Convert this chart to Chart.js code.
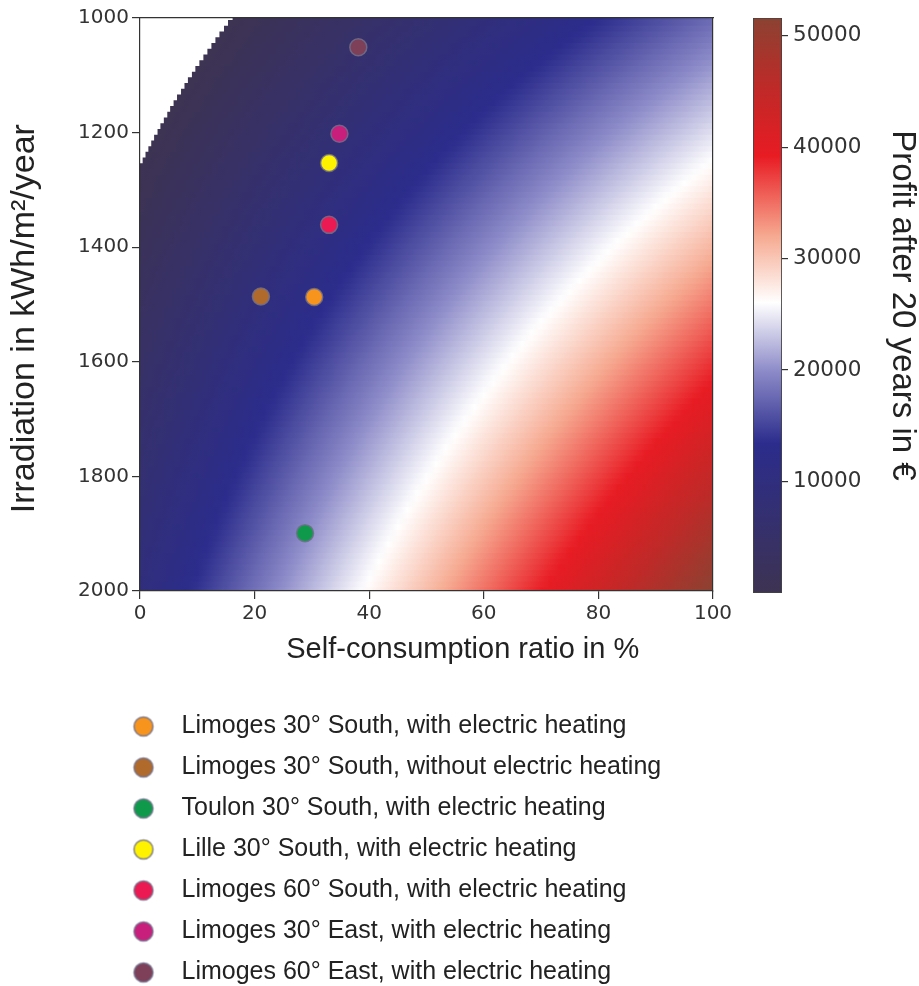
<!DOCTYPE html>
<html>
<head>
<meta charset="utf-8">
<title>Profit after 20 years</title>
<script src="https://cdn.jsdelivr.net/npm/chart.js@4/dist/chart.umd.min.js"></script>
<style>
  html, body { margin: 0; padding: 0; background: #ffffff; }
  #page { position: relative; width: 919px; height: 986px; overflow: hidden; background: #ffffff; }
  #page canvas { position: absolute; }
  #heat { left: 0; top: 0; }
  #scale { left: 700px; top: 0; }
  #key { left: 102px; top: 698px; }
</style>
</head>
<body>
<div id="page">
  <canvas id="heat" width="919" height="700"></canvas>
  <canvas id="scale" width="219" height="700"></canvas>
  <canvas id="key" width="640" height="288"></canvas>
</div>
<script>
// Grid nodes along the self-consumption ratio (%)
const selfConsumptionNodes = [0, 10, 20, 30, 40, 50, 60, 70, 80, 90, 100];
// Irradiation (kWh/m²/year) of each grid row, 10 kWh apart
const irradiationRows = [
  1000, 1010, 1020, 1030, 1040, 1050, 1060, 1070, 1080, 1090,
  1100, 1110, 1120, 1130, 1140, 1150, 1160, 1170, 1180, 1190,
  1200, 1210, 1220, 1230, 1240, 1250, 1260, 1270, 1280, 1290,
  1300, 1310, 1320, 1330, 1340, 1350, 1360, 1370, 1380, 1390,
  1400, 1410, 1420, 1430, 1440, 1450, 1460, 1470, 1480, 1490,
  1500, 1510, 1520, 1530, 1540, 1550, 1560, 1570, 1580, 1590,
  1600, 1610, 1620, 1630, 1640, 1650, 1660, 1670, 1680, 1690,
  1700, 1710, 1720, 1730, 1740, 1750, 1760, 1770, 1780, 1790,
  1800, 1810, 1820, 1830, 1840, 1850, 1860, 1870, 1880, 1890,
  1900, 1910, 1920, 1930, 1940, 1950, 1960, 1970, 1980, 1990,
  2000
];
// Self-consumption ratio (%) where profit reaches zero, for the top rows (1000 to 1260)
const breakEvenRatio = [16.3, 15.5, 14.8, 14.0, 13.3, 12.6, 11.9, 11.2, 10.5, 9.8,
                        9.2, 8.5, 7.9, 7.3, 6.6, 6.0, 5.4, 4.9, 4.3, 3.7,
                        3.2, 2.6, 2.1, 1.6, 1.1, 0.6, 0.1];
// Profit after 20 years (€) per row and node; null where there is no profit
const profit = [
  [null, null, 770, 2870, 4970, 7060, 9160, 11260, 13360, 15450, 17550],
  [null, null, 950, 3060, 5180, 7300, 9420, 11540, 13650, 15770, 17890],
  [null, null, 1120, 3260, 5400, 7540, 9680, 11810, 13950, 16090, 18230],
  [null, null, 1290, 3450, 5610, 7770, 9930, 12090, 14250, 16410, 18570],
  [null, null, 1470, 3650, 5830, 8010, 10190, 12370, 14550, 16730, 18910],
  [null, null, 1640, 3840, 6040, 8240, 10450, 12650, 14850, 17050, 19250],
  [null, null, 1810, 4030, 6260, 8480, 10700, 12930, 15150, 17370, 19590],
  [null, null, 1980, 4230, 6470, 8720, 10960, 13200, 15450, 17690, 19940],
  [null, null, 2160, 4420, 6690, 8950, 11220, 13480, 15750, 18010, 20280],
  [null, 40, 2330, 4620, 6900, 9190, 11470, 13760, 16050, 18330, 20620],
  [null, 200, 2500, 4810, 7120, 9420, 11730, 14040, 16340, 18650, 20960],
  [null, 350, 2680, 5000, 7330, 9660, 11990, 14320, 16640, 18970, 21300],
  [null, 500, 2850, 5200, 7550, 9900, 12240, 14590, 16940, 19290, 21640],
  [null, 650, 3020, 5390, 7760, 10130, 12500, 14870, 17240, 19610, 21980],
  [null, 800, 3200, 5590, 7980, 10370, 12760, 15150, 17540, 19930, 22320],
  [null, 960, 3370, 5780, 8190, 10600, 13020, 15430, 17840, 20250, 22660],
  [null, 1110, 3540, 5970, 8410, 10840, 13270, 15700, 18140, 20570, 23000],
  [null, 1260, 3710, 6170, 8620, 11080, 13530, 15980, 18440, 20890, 23340],
  [null, 1410, 3890, 6360, 8840, 11310, 13790, 16260, 18740, 21210, 23680],
  [null, 1560, 4060, 6560, 9050, 11550, 14040, 16540, 19030, 21530, 24030],
  [null, 1720, 4230, 6750, 9270, 11780, 14300, 16820, 19330, 21850, 24370],
  [null, 1870, 4410, 6940, 9480, 12020, 14560, 17090, 19630, 22170, 24710],
  [null, 2020, 4580, 7140, 9700, 12250, 14810, 17370, 19930, 22490, 25050],
  [null, 2170, 4750, 7330, 9910, 12490, 15070, 17650, 20230, 22810, 25390],
  [null, 2330, 4930, 7530, 10130, 12730, 15330, 17930, 20530, 23130, 25730],
  [null, 2480, 5100, 7720, 10340, 12960, 15580, 18210, 20830, 23450, 26070],
  [null, 2630, 5270, 7910, 10560, 13200, 15840, 18480, 21130, 23770, 26410],
  [120, 2780, 5440, 8110, 10770, 13430, 16100, 18760, 21420, 24090, 26750],
  [250, 2930, 5620, 8300, 10990, 13670, 16350, 19040, 21720, 24410, 27090],
  [380, 3090, 5790, 8500, 11200, 13910, 16610, 19320, 22020, 24730, 27430],
  [510, 3240, 5960, 8690, 11420, 14140, 16870, 19590, 22320, 25050, 27770],
  [640, 3390, 6140, 8880, 11630, 14380, 17130, 19870, 22620, 25370, 28110],
  [770, 3540, 6310, 9080, 11850, 14610, 17380, 20150, 22920, 25690, 28460],
  [900, 3690, 6480, 9270, 12060, 14850, 17640, 20430, 23220, 26010, 28800],
  [1040, 3850, 6660, 9470, 12280, 15090, 17900, 20710, 23520, 26330, 29140],
  [1170, 4000, 6830, 9660, 12490, 15320, 18150, 20980, 23820, 26650, 29480],
  [1300, 4150, 7000, 9850, 12710, 15560, 18410, 21260, 24110, 26970, 29820],
  [1430, 4300, 7170, 10050, 12920, 15790, 18670, 21540, 24410, 27290, 30160],
  [1560, 4450, 7350, 10240, 13140, 16030, 18920, 21820, 24710, 27610, 30500],
  [1690, 4610, 7520, 10440, 13350, 16270, 19180, 22100, 25010, 27930, 30840],
  [1820, 4760, 7690, 10630, 13570, 16500, 19440, 22370, 25310, 28250, 31180],
  [1950, 4910, 7870, 10820, 13780, 16740, 19690, 22650, 25610, 28570, 31520],
  [2080, 5060, 8040, 11020, 14000, 16970, 19950, 22930, 25910, 28890, 31860],
  [2220, 5210, 8210, 11210, 14210, 17210, 20210, 23210, 26210, 29200, 32200],
  [2350, 5370, 8390, 11410, 14430, 17450, 20470, 23490, 26500, 29520, 32540],
  [2480, 5520, 8560, 11600, 14640, 17680, 20720, 23760, 26800, 29850, 32890],
  [2610, 5670, 8730, 11790, 14860, 17920, 20980, 24040, 27100, 30160, 33230],
  [2740, 5820, 8900, 11990, 15070, 18150, 21240, 24320, 27400, 30480, 33570],
  [2870, 5970, 9080, 12180, 15290, 18390, 21490, 24600, 27700, 30800, 33910],
  [3000, 6130, 9250, 12380, 15500, 18620, 21750, 24870, 28000, 31120, 34250],
  [3130, 6280, 9420, 12570, 15720, 18860, 22010, 25150, 28300, 31440, 34590],
  [3260, 6430, 9600, 12760, 15930, 19100, 22260, 25430, 28600, 31760, 34930],
  [3390, 6580, 9770, 12960, 16150, 19330, 22520, 25710, 28900, 32080, 35270],
  [3530, 6730, 9940, 13150, 16360, 19570, 22780, 25990, 29190, 32400, 35610],
  [3660, 6890, 10120, 13350, 16580, 19800, 23030, 26260, 29490, 32720, 35950],
  [3790, 7040, 10290, 13540, 16790, 20040, 23290, 26540, 29790, 33040, 36290],
  [3920, 7190, 10460, 13730, 17000, 20280, 23550, 26820, 30090, 33360, 36630],
  [4050, 7340, 10630, 13930, 17220, 20510, 23800, 27100, 30390, 33680, 36970],
  [4180, 7490, 10810, 14120, 17430, 20750, 24060, 27380, 30690, 34000, 37320],
  [4310, 7650, 10980, 14320, 17650, 20980, 24320, 27650, 30990, 34320, 37660],
  [4440, 7800, 11150, 14510, 17860, 21220, 24580, 27930, 31290, 34640, 38000],
  [4570, 7950, 11330, 14700, 18080, 21460, 24830, 28210, 31590, 34960, 38340],
  [4710, 8100, 11500, 14900, 18290, 21690, 25090, 28490, 31880, 35280, 38680],
  [4840, 8250, 11670, 15090, 18510, 21930, 25350, 28760, 32180, 35600, 39020],
  [4970, 8410, 11850, 15290, 18720, 22160, 25600, 29040, 32480, 35920, 39360],
  [5100, 8560, 12020, 15480, 18940, 22400, 25860, 29320, 32780, 36240, 39700],
  [5230, 8710, 12190, 15670, 19150, 22640, 26120, 29600, 33080, 36560, 40040],
  [5360, 8860, 12370, 15870, 19370, 22870, 26370, 29880, 33380, 36880, 40380],
  [5490, 9010, 12540, 16060, 19580, 23110, 26630, 30150, 33680, 37200, 40720],
  [5620, 9170, 12710, 16260, 19800, 23340, 26890, 30430, 33980, 37520, 41060],
  [5750, 9320, 12880, 16450, 20010, 23580, 27140, 30710, 34270, 37840, 41400],
  [5880, 9470, 13060, 16640, 20230, 23820, 27400, 30990, 34570, 38160, 41750],
  [6020, 9620, 13230, 16840, 20440, 24050, 27660, 31270, 34870, 38480, 42090],
  [6150, 9780, 13400, 17030, 20660, 24290, 27920, 31540, 35170, 38800, 42430],
  [6280, 9930, 13580, 17230, 20870, 24520, 28170, 31820, 35470, 39120, 42770],
  [6410, 10080, 13750, 17420, 21090, 24760, 28430, 32100, 35770, 39440, 43110],
  [6540, 10230, 13920, 17610, 21300, 24990, 28690, 32380, 36070, 39760, 43450],
  [6670, 10380, 14100, 17810, 21520, 25230, 28940, 32650, 36370, 40080, 43790],
  [6800, 10540, 14270, 18000, 21730, 25470, 29200, 32930, 36670, 40400, 44130],
  [6930, 10690, 14440, 18200, 21950, 25700, 29460, 33210, 36960, 40720, 44470],
  [7060, 10840, 14610, 18390, 22160, 25940, 29710, 33490, 37260, 41040, 44810],
  [7200, 10990, 14790, 18580, 22380, 26170, 29970, 33770, 37560, 41360, 45150],
  [7330, 11140, 14960, 18780, 22590, 26410, 30230, 34040, 37860, 41680, 45490],
  [7460, 11300, 15130, 18970, 22810, 26650, 30480, 34320, 38160, 42000, 45840],
  [7590, 11450, 15310, 19160, 23020, 26880, 30740, 34600, 38460, 42320, 46180],
  [7720, 11600, 15480, 19360, 23240, 27120, 31000, 34880, 38760, 42640, 46520],
  [7850, 11750, 15650, 19550, 23450, 27350, 31250, 35160, 39060, 42960, 46860],
  [7980, 11900, 15830, 19750, 23670, 27590, 31510, 35430, 39350, 43280, 47200],
  [8110, 12060, 16000, 19940, 23880, 27830, 31770, 35710, 39650, 43600, 47540],
  [8240, 12210, 16170, 20130, 24100, 28060, 32030, 35990, 39950, 43920, 47880],
  [8380, 12360, 16340, 20330, 24310, 28300, 32280, 36270, 40250, 44240, 48220],
  [8510, 12510, 16520, 20520, 24530, 28530, 32540, 36540, 40550, 44560, 48560],
  [8640, 12660, 16690, 20720, 24740, 28770, 32800, 36820, 40850, 44880, 48900],
  [8770, 12820, 16860, 20910, 24960, 29010, 33050, 37100, 41150, 45200, 49240],
  [8900, 12970, 17040, 21100, 25170, 29240, 33310, 37380, 41450, 45520, 49580],
  [9030, 13120, 17210, 21300, 25390, 29480, 33570, 37660, 41750, 45840, 49920],
  [9160, 13270, 17380, 21490, 25600, 29710, 33820, 37930, 42040, 46150, 50270],
  [9290, 13420, 17560, 21690, 25820, 29950, 34080, 38210, 42340, 46470, 50610],
  [9420, 13580, 17730, 21880, 26030, 30190, 34340, 38490, 42640, 46790, 50950],
  [9550, 13730, 17900, 22070, 26250, 30420, 34590, 38770, 42940, 47110, 51290],
  [9690, 13880, 18070, 22270, 26460, 30660, 34850, 39050, 43240, 47430, 51630]
];

// Studied installations
const siteLabels = [
  'Limoges 30° South, with electric heating',
  'Limoges 30° South, without electric heating',
  'Toulon 30° South, with electric heating',
  'Lille 30° South, with electric heating',
  'Limoges 60° South, with electric heating',
  'Limoges 30° East, with electric heating',
  'Limoges 60° East, with electric heating'
];
const siteSelfConsumption = [30.4, 21.1, 28.8, 33.0, 33.0, 34.8, 38.1];
const siteIrradiation = [1487, 1486, 1899, 1253, 1361, 1202, 1051];
const siteColors = ['#f7941d', '#b06a2c', '#0f9a4b', '#fff200', '#ec1a52', '#c91f7c', '#7e3f58'];

// Axis ticks and colour-scale range
const xTicks = [0, 20, 40, 60, 80, 100];
const yTicks = [1000, 1200, 1400, 1600, 1800, 2000];
const profitTicks = [10000, 20000, 30000, 40000, 50000];
const profitRange = [0, 51600];

// Diverging colour map: dark slate -> blue -> white -> red -> brown
const colorStops = [
  [0.00, [61, 51, 82]],
  [0.13, [52, 48, 112]],
  [0.26, [43, 44, 140]],
  [0.385, [140, 138, 200]],
  [0.505, [255, 255, 255]],
  [0.62, [246, 170, 145]],
  [0.76, [232, 27, 35]],
  [0.88, [190, 42, 40]],
  [1.00, [139, 66, 50]]
];
const rgb = c => 'rgb(' + c.map(Math.round).join(',') + ')';
function profitColor(v) {
  const t = Math.min(1, Math.max(0, (v - profitRange[0]) / (profitRange[1] - profitRange[0])));
  for (let i = 1; i < colorStops.length; i++) {
    const [t1, c1] = colorStops[i];
    if (t <= t1) {
      const [t0, c0] = colorStops[i - 1];
      const f = (t - t0) / (t1 - t0);
      return rgb(c0.map((c, k) => c + (c1[k] - c) * f));
    }
  }
  return rgb(colorStops[colorStops.length - 1][1]);
}

// Horizontal gradient for one irradiation row; the colour between two
// grid nodes follows the colour map rather than a straight RGB blend
function rowGradient(chart, r) {
  const xs = chart.scales.x;
  const x0 = xs ? xs.getPixelForValue(0) : NaN;
  const x1 = xs ? xs.getPixelForValue(100) : NaN;
  if (!Number.isFinite(x0) || !Number.isFinite(x1) || x1 <= x0) return 'rgba(0,0,0,0)';
  const g = chart.ctx.createLinearGradient(x0, 0, x1, 0);
  const nodes = [];
  if (r < breakEvenRatio.length) nodes.push([breakEvenRatio[r], 0]);
  selfConsumptionNodes.forEach((s, k) => {
    if (profit[r][k] !== null) nodes.push([s, profit[r][k]]);
  });
  const sub = 6;
  nodes.forEach(([s, v], i) => {
    g.addColorStop(s / 100, profitColor(v));
    if (i + 1 < nodes.length) {
      const [s2, v2] = nodes[i + 1];
      for (let j = 1; j < sub; j++) {
        const f = j / sub;
        g.addColorStop((s + (s2 - s) * f) / 100, profitColor(v + (v2 - v) * f));
      }
    }
  });
  return g;
}

const ink = '#333333';
const tickFont = { family: 'DejaVu Sans', size: 20 };
const dotBorder = 'rgba(112,112,140,0.85)';

// One floating horizontal bar per irradiation row, from the break-even point to 100 %
const heatDataset = {
  type: 'bar',
  indexAxis: 'y',
  xAxisID: 'x',
  yAxisID: 'y',
  data: irradiationRows.map((irr, r) => ({
    y: irr,
    x: [r < breakEvenRatio.length ? breakEvenRatio[r] : selfConsumptionNodes[0],
        selfConsumptionNodes[selfConsumptionNodes.length - 1]],
    row: r
  })),
  backgroundColor: ctx => (ctx.raw && ctx.raw.row !== undefined) ? rowGradient(ctx.chart, ctx.raw.row) : 'rgba(0,0,0,0)',
  borderWidth: 0,
  inflateAmount: 0.8,
  grouped: false,
  barPercentage: 1,
  categoryPercentage: 1,
  order: 2
};

const siteDatasets = siteLabels.map((label, i) => ({
  type: 'scatter',
  label,
  xAxisID: 'x',
  yAxisID: 'y',
  data: [{ x: siteSelfConsumption[i], y: siteIrradiation[i] }],
  backgroundColor: siteColors[i],
  borderColor: dotBorder,
  borderWidth: 1.5,
  pointRadius: 8.5,
  order: 0
}));

const frameAxis = (axis, position) => ({
  axis,
  position,
  type: 'linear',
  min: axis === 'x' ? 0 : 1000,
  max: axis === 'x' ? 100 : 2000,
  display: true,
  ticks: { display: false },
  grid: { display: false },
  border: { display: true, color: ink, width: 1.2, z: 1 },
  afterFit: s => { if (axis === 'x') s.height = 0; else s.width = 0; }
});

new Chart(document.getElementById('heat'), {
  type: 'bar',
  data: { datasets: [heatDataset, ...siteDatasets] },
  options: {
    indexAxis: 'y',
    responsive: false,
    animation: false,
    events: [],
    layout: { padding: { left: 0, top: 18, right: 206, bottom: 29 } },
    plugins: { legend: { display: false }, tooltip: { enabled: false } },
    scales: {
      x: {
        type: 'linear', position: 'bottom', min: 0, max: 100, offset: false, beginAtZero: false,
        afterBuildTicks: s => { s.ticks = xTicks.map(v => ({ value: v })); },
        afterFit: s => { s.height = 80; },
        grid: { display: true, offset: false, drawOnChartArea: false, drawTicks: true, tickLength: 8, color: ink, lineWidth: 1.2 },
        border: { display: true, color: ink, width: 1.2, z: 1 },
        ticks: { color: ink, font: tickFont, padding: 3, maxRotation: 0, autoSkip: false, callback: v => String(v) },
        title: {
          display: true, text: '         Self-consumption ratio in %', color: '#222222',
          font: { family: 'Liberation Sans', size: 29 }, padding: { top: 0, bottom: 4 }
        }
      },
      y: {
        type: 'linear', position: 'left', reverse: true, min: 1000, max: 2000, offset: false, beginAtZero: false,
        afterBuildTicks: s => { s.ticks = yTicks.map(v => ({ value: v })); },
        afterFit: s => { s.width = 140; },
        grid: { display: true, offset: false, drawOnChartArea: false, drawTicks: true, tickLength: 8, color: ink, lineWidth: 1.2 },
        border: { display: true, color: ink, width: 1.2, z: 1 },
        ticks: { color: ink, font: tickFont, padding: 3, autoSkip: false, callback: v => String(v) },
        title: {
          display: true, text: 'Irradiation in kWh/m²/year   ', color: '#222222',
          font: { family: 'Liberation Sans', size: 34, lineHeight: 1.1 }, padding: { top: 6, bottom: 0 }
        }
      },
      xTop: frameAxis('x', 'top'),
      yRight: frameAxis('y', 'right')
    }
  }
});

// Colour bar: one bar over the whole profit range, filled with the colour map
function barGradient(chart) {
  const ys = chart.scales.y;
  const y0 = ys ? ys.getPixelForValue(profitRange[0]) : NaN;
  const y1 = ys ? ys.getPixelForValue(profitRange[1]) : NaN;
  if (!Number.isFinite(y0) || !Number.isFinite(y1) || y0 === y1) return 'rgba(0,0,0,0)';
  const g = chart.ctx.createLinearGradient(0, y0, 0, y1);
  colorStops.forEach(([t, c]) => g.addColorStop(t, rgb(c)));
  return g;
}

new Chart(document.getElementById('scale'), {
  type: 'bar',
  data: {
    labels: ['profit'],
    datasets: [{
      data: [{ x: 'profit', y: profitRange }],
      backgroundColor: ctx => barGradient(ctx.chart),
      borderColor: '#444444',
      borderWidth: 1.2,
      borderSkipped: false,
      barPercentage: 1,
      categoryPercentage: 1
    }]
  },
  options: {
    responsive: false,
    animation: false,
    events: [],
    layout: { padding: { left: 53, top: 17, right: 0, bottom: 107 } },
    plugins: { legend: { display: false }, tooltip: { enabled: false } },
    scales: {
      x: { display: false },
      y: {
        position: 'right', min: profitRange[0], max: profitRange[1], beginAtZero: false,
        afterBuildTicks: s => { s.ticks = profitTicks.map(v => ({ value: v })); },
        afterFit: s => { s.width = 137; },
        grid: { display: true, drawOnChartArea: false, drawTicks: true, tickLength: 6, color: ink, lineWidth: 1.2 },
        border: { display: false },
        ticks: { color: ink, font: { family: 'DejaVu Sans', size: 21.5 }, padding: 5, autoSkip: false, callback: v => String(v) },
        title: {
          display: true, text: 'Profit after 20 years in €', color: '#222222',
          font: { family: 'Liberation Sans', size: 33, lineHeight: 1.0 }, padding: { top: 0, bottom: 0 }
        }
      }
    }
  }
});

// Legend markers drawn as small round swatches
function marker(color) {
  const c = document.createElement('canvas');
  c.width = 24; c.height = 24;
  const g = c.getContext('2d');
  g.beginPath();
  g.arc(12, 12, 9.5, 0, Math.PI * 2);
  g.fillStyle = color;
  g.fill();
  g.lineWidth = 1.5;
  g.strokeStyle = dotBorder;
  g.stroke();
  return c;
}

new Chart(document.getElementById('key'), {
  type: 'scatter',
  data: {
    datasets: siteLabels.map((label, i) => ({
      label,
      data: [],
      backgroundColor: siteColors[i],
      pointStyle: marker(siteColors[i])
    }))
  },
  options: {
    responsive: false,
    animation: false,
    events: [],
    layout: { padding: 0 },
    scales: { x: { display: false }, y: { display: false } },
    plugins: {
      tooltip: { enabled: false },
      legend: {
        display: true,
        position: 'top',
        align: 'start',
        maxHeight: 1000,
        labels: {
          usePointStyle: true,
          pointStyleWidth: 51,
          padding: 16,
          color: '#222222',
          font: { family: 'Liberation Sans', size: 25 }
        }
      }
    }
  }
});
</script>
</body>
</html>
